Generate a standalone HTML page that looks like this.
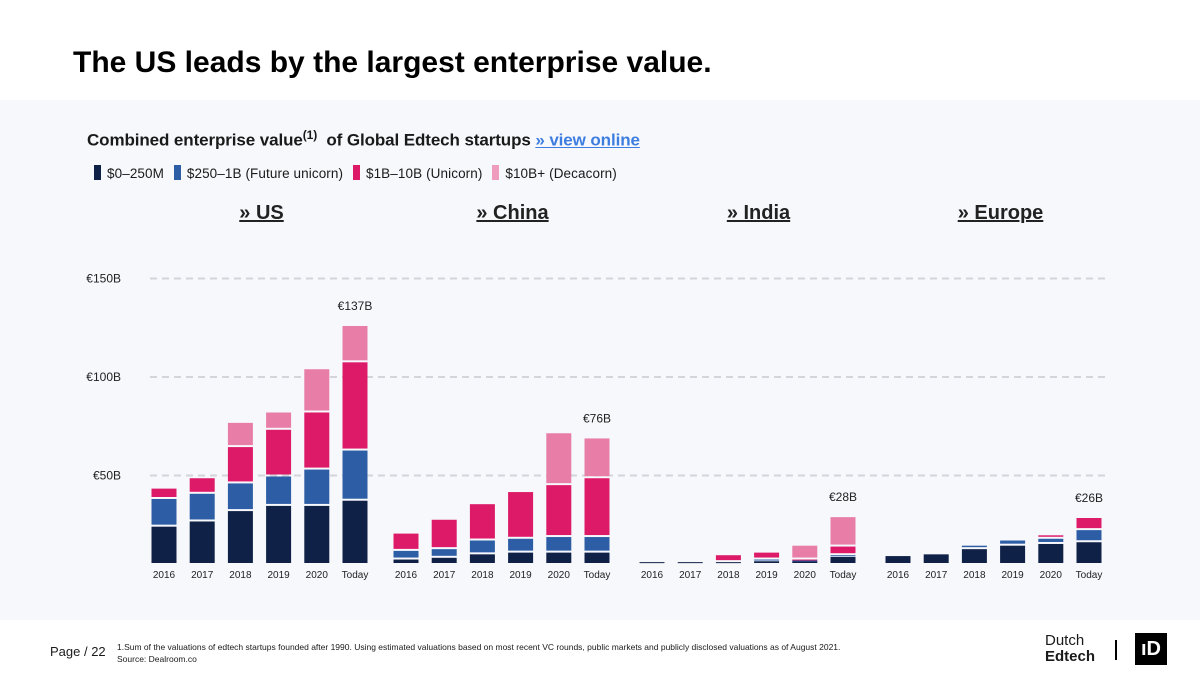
<!DOCTYPE html>
<html><head><meta charset="utf-8">
<style>
body{margin:0;width:1200px;height:675px;overflow:hidden;background:#fff;font-family:"Liberation Sans",sans-serif;}
#wrap{position:relative;width:1200px;height:675px;}
.t{position:absolute;white-space:nowrap;color:#1a1a1a;}
</style></head><body>
<div id="wrap">
<div style="position:absolute;left:0;top:100px;width:1200px;height:520px;background:#f7f8fc"></div>
<div class="t" style="left:73px;top:46px;font-size:30px;font-weight:bold;color:#000">The US leads by the largest enterprise value.</div>
<div class="t" style="left:87px;top:128px;font-size:17px;font-weight:bold;letter-spacing:-0.1px">Combined enterprise value<sup style="font-size:12px">(1)</sup>&nbsp; of Global Edtech startups <span style="color:#3d7de0;text-decoration:underline">» view online</span></div>
<div class="t" style="left:94px;top:165px;font-size:13.5px;letter-spacing:0.1px">
<span><span style="display:inline-block;width:7px;height:15px;background:#0f2147;vertical-align:-2px;margin-right:6px"></span>$0–250M</span>
<span style="margin-left:6px"><span style="display:inline-block;width:7px;height:15px;background:#2d5da5;vertical-align:-2px;margin-right:6px"></span>$250–1B (Future unicorn)</span>
<span style="margin-left:6px"><span style="display:inline-block;width:7px;height:15px;background:#dc1a68;vertical-align:-2px;margin-right:6px"></span>$1B–10B (Unicorn)</span>
<span style="margin-left:6px"><span style="display:inline-block;width:7px;height:15px;background:#ee9bbd;vertical-align:-2px;margin-right:6px"></span>$10B+ (Decacorn)</span>
</div>
<svg id="chart" width="1200" height="675" style="position:absolute;left:0;top:0"></svg>
<div class="t" style="left:50px;top:644px;font-size:13px">Page / 22</div>
<div class="t" style="left:117px;top:641px;font-size:8.5px;line-height:12px">1.Sum of the valuations of edtech startups founded after 1990. Using estimated valuations based on most recent VC rounds, public markets and publicly disclosed valuations as of August 2021.<br>Source: Dealroom.co</div>
<div class="t" style="left:1045px;top:633px;font-size:15px;line-height:16px">Dutch<br><b>Edtech</b></div>
<div style="position:absolute;left:1115px;top:640px;width:2px;height:20px;background:#000"></div>
<div style="position:absolute;left:1135px;top:633px;width:32px;height:32px;background:#000;color:#fff;font-weight:bold;font-size:20px;text-align:center;line-height:32px">ıD</div>
</div>
<script>
const years=["2016","2017","2018","2019","2020","Today"];
const regions=["» US","» China","» India","» Europe"];
const tickValues=[50,100,150];
const tickLabels=["€50B","€100B","€150B"];
const navy=[[21,24,30,33,33,36],[2,3,5,6,6,6],[0.5,0.5,0.5,1,1,3.5],[4,5,8,10,11,12]];
const blue=[[16,16,16,17,21,29],[5,5,8,8,9,9],[0,0,0,1,0.5,1],[0,0,2,3,3,7]];
const unicorn=[[6,9,21,27,33,51],[10,17,21,27,30,34],[0,0,4,4,0.5,5],[0,0,0,0,2,7]];
const decacorn=[[0,0,14,10,25,21],[0,0,0,0,30,23],[0,0,0,0,8,17],[0,0,0,0,0,0]];
const totalLabels=["€137B","€76B","€28B","€26B"];
const colors=["#0f2147","#2d5da5","#dc1a68","#e87ea8"];
const series=[navy,blue,unicorn,decacorn];
const svg=document.getElementById('chart');
const NS='http://www.w3.org/2000/svg';
const base=563,scale=1.73;
function y(v){return base-v*scale;}
function yGrid(v){return 574-v*1.97;}
const panelStart=[164,406,652,898],step=38.2,bw=25,headerShift=[2,11,11,7];
function x(r,i){return panelStart[r]+i*step;}
function mk(tag,attrs){const e=document.createElementNS(NS,tag);for(const k in attrs)e.setAttribute(k,attrs[k]);svg.appendChild(e);return e;}
tickValues.forEach((v,i)=>{
 const l=mk('line',{x1:150,x2:1105,y1:yGrid(v),y2:yGrid(v),stroke:'#d3d5da','stroke-width':2,'stroke-dasharray':'7,5'});
 
 
 const t=mk('text',{x:121,y:yGrid(v)+4,'text-anchor':'end','font-size':12,fill:'#222','font-family':'Liberation Sans, sans-serif'});
 t.textContent=tickLabels[i];
 
 
});
regions.forEach((r,ri)=>{
 const cx=x(ri,2.5)+headerShift[ri];
 const h=mk('text',{x:cx,y:219,'text-anchor':'middle','font-size':20,'font-weight':'bold',fill:'#222','text-decoration':'underline','font-family':'Liberation Sans, sans-serif'});
 h.textContent=r;
 
 
 years.forEach((yr,i)=>{
  let acc=0;const xc=x(ri,i);
  series.forEach((s,si)=>{
   const v=s[ri][i]; if(v<=0)return;
   const y0=y(acc),y1=y(acc+v);acc+=v;
   const hgt=Math.max(1,y0-y1-(acc>v?2:0));
   const rect=mk('rect',{x:xc-bw/2,y:y1,width:bw,height:hgt,fill:colors[si]});
   
   
  });
  const t=mk('text',{x:xc,y:578,'text-anchor':'middle','font-size':10,fill:'#222','font-family':'Liberation Sans, sans-serif'});
  t.textContent=yr;
  
  
 });
 let tot=0;series.forEach(s=>tot+=s[ri][5]);
 const lbl=mk('text',{x:x(ri,5),y:y(tot)-16,'text-anchor':'middle','font-size':12,fill:'#222','font-family':'Liberation Sans, sans-serif'});
 lbl.textContent=totalLabels[ri];
 
 
});
</script>
</body></html>
